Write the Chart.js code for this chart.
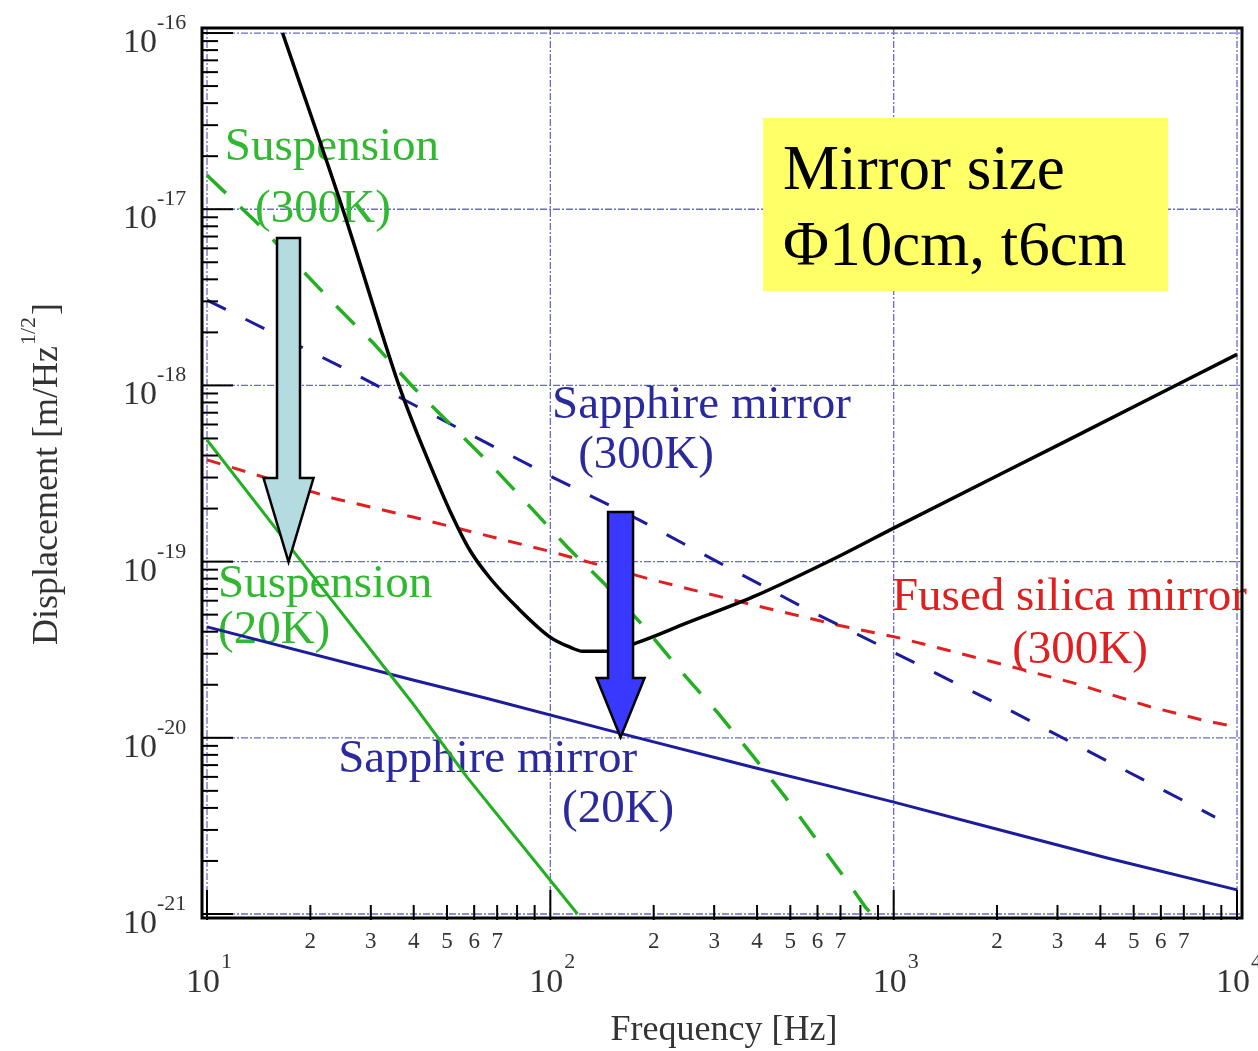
<!DOCTYPE html>
<html>
<head>
<meta charset="utf-8">
<script src="https://cdn.jsdelivr.net/npm/chart.js@4.4.0/dist/chart.umd.min.js"></script>
<style>
  html, body { margin: 0; padding: 0; background: #fff; }
  #wrap { width: 1258px; height: 1051px; }
</style>
</head>
<body>
<div id="wrap"><canvas id="noiseChart"></canvas></div>
<script>
// values (Hz, m/Hz^1/2)
const totalFreq = [16.6, 24.9, 35.8, 39.8, 44.6, 51.0, 58.3, 66.7, 79.9, 99.8, 114, 124, 146, 179, 250, 389, 698, 1000, 3177, 10000];
const totalNoise = [1.0e-16, 9.9e-18, 1.07e-18, 6.12e-19, 3.55e-19, 1.94e-19, 1.16e-19, 8.07e-20, 5.52e-20, 3.73e-20, 3.27e-20, 3.1e-20, 3.1e-20, 3.47e-20, 4.49e-20, 6.3e-20, 1.08e-19, 1.55e-19, 4.83e-19, 1.5e-18];

const susp300Freq = [10, 14.0, 23.3, 30.5, 39.8, 52.1, 68.1, 89.1, 112, 143, 189, 240, 308, 389, 483, 594, 731, 831, 865];
const susp300Noise = [1.56e-17, 8.36e-18, 2.94e-18, 1.74e-18, 9.8e-19, 5.8e-19, 3.44e-19, 1.96e-19, 1.21e-19, 7.57e-20, 4.2e-20, 2.39e-20, 1.38e-20, 7.89e-21, 4.62e-21, 2.67e-21, 1.54e-21, 1.08e-21, 1.0e-21];

const susp20Freq = [10, 18.7, 39.8, 57.1, 99.8, 120];
const susp20Noise = [4.9e-19, 1.02e-19, 1.56e-20, 6.0e-21, 1.56e-21, 1.0e-21];

const sapph300Freq = [10, 24.9, 57.1, 102, 182, 312, 545, 2042, 3334, 8630];
const sapph300Noise = [3.05e-18, 1.26e-18, 5.4e-19, 3.0e-19, 1.72e-19, 9.8e-20, 5.5e-20, 1.53e-20, 9.3e-21, 3.55e-21];

const silicaFreq = [10, 23.3, 39.8, 102, 199, 389, 684, 1045, 2000, 3334, 5585, 7960, 10000];
const silicaNoise = [3.78e-19, 2.29e-19, 1.79e-19, 1.13e-19, 7.87e-20, 5.68e-20, 4.37e-20, 3.68e-20, 2.66e-20, 2.05e-20, 1.50e-20, 1.26e-20, 1.15e-20];

const sapph20Freq = [10, 39.8, 65.5, 160, 389, 684, 995, 2042, 4188, 10000];
const sapph20Noise = [4.26e-20, 2.13e-20, 1.67e-20, 1.06e-20, 6.8e-21, 5.2e-21, 4.33e-21, 3.0e-21, 2.08e-21, 1.37e-21];

const freqExps = [1, 2, 3, 4];
const dispExps = [-16, -17, -18, -19, -20, -21];
const minorLabels = ["2", "3", "4", "5", "6", "7"];

const GREEN = "#22b022";
const GREEN_TXT = "#30b830";
const BLUE = "#1c1c9c";
const BLUE_TXT = "#2a2a9e";
const RED = "#e02020";
const SERIF = '"Liberation Serif", "DejaVu Serif", serif';

// annotation positions in log10 units of the axes
const notes = [
  { text: "Suspension", lf: 1.052, ly: -16.721, color: GREEN_TXT },
  { text: "(300K)", lf: 1.140, ly: -17.073, color: GREEN_TXT },
  { text: "Sapphire mirror", lf: 2.005, ly: -18.185, color: BLUE_TXT },
  { text: "(300K)", lf: 2.081, ly: -18.469, color: BLUE_TXT },
  { text: "Suspension", lf: 1.032, ly: -19.201, color: GREEN_TXT },
  { text: "(20K)", lf: 1.032, ly: -19.462, color: GREEN_TXT },
  { text: "Fused silica mirror", lf: 2.995, ly: -19.275, color: RED },
  { text: "(300K)", lf: 3.345, ly: -19.575, color: RED },
  { text: "Sapphire mirror", lf: 1.382, ly: -20.194, color: BLUE_TXT },
  { text: "(20K)", lf: 2.034, ly: -20.478, color: BLUE_TXT },
];

const arrows = [
  { lf: 1.2374, top: -17.163, base: -18.526, tip: -19.002, shaft: 23, head: 50, fill: "#b4dbe0" },
  { lf: 2.2045, top: -18.718, base: -19.661, tip: -19.996, shaft: 25, head: 48, fill: "#3838ff" },
];

const infoBox = { left: 2.6196, right: 3.7993, top: -16.482, bottom: -17.464, textLf: 2.678, lines: [["Mirror size", -16.885], ["\u03A610cm, t6cm", -17.317]] };

function series(freq, noise) {
  return freq.map((f, i) => ({ x: f, y: noise[i] }));
}

const decorPlugin = {
  id: "decor",
  beforeDatasetsDraw(chart) {
    const { ctx, chartArea: a, scales: { x, y } } = chart;
    const X = (l) => x.getPixelForValue(Math.pow(10, l));
    const Y = (l) => y.getPixelForValue(Math.pow(10, l));
    ctx.save();
    // decade grid
    ctx.strokeStyle = "#6a6ad0";
    ctx.lineWidth = 1.3;
    ctx.setLineDash([7, 2, 2, 2]);
    freqExps.forEach((e) => {
      const p = X(e);
      ctx.beginPath(); ctx.moveTo(p, a.top); ctx.lineTo(p, a.bottom); ctx.stroke();
    });
    dispExps.forEach((e) => {
      const p = Y(e);
      ctx.beginPath(); ctx.moveTo(a.left, p); ctx.lineTo(a.right, p); ctx.stroke();
    });
    ctx.setLineDash([]);
    // yellow info box
    const bx = X(infoBox.left), by = Y(infoBox.top);
    ctx.fillStyle = "#ffff66";
    ctx.fillRect(bx, by, X(infoBox.right) - bx, Y(infoBox.bottom) - by);
    ctx.fillStyle = "#000";
    ctx.font = "63px " + SERIF;
    ctx.textBaseline = "alphabetic";
    ctx.textAlign = "left";
    infoBox.lines.forEach(([t, l]) => ctx.fillText(t, X(infoBox.textLf), Y(l)));
    // curve labels
    ctx.font = "47px " + SERIF;
    notes.forEach((n) => {
      ctx.fillStyle = n.color;
      ctx.fillText(n.text, X(n.lf), Y(n.ly));
    });
    ctx.restore();
  },
  afterDatasetsDraw(chart) {
    const { ctx, chartArea: a, scales: { x, y } } = chart;
    const X = (l) => x.getPixelForValue(Math.pow(10, l));
    const Y = (l) => y.getPixelForValue(Math.pow(10, l));
    ctx.save();
    // arrows
    arrows.forEach((ar) => {
      const cx = X(ar.lf), t = Y(ar.top), b = Y(ar.base), tip = Y(ar.tip);
      const s = ar.shaft / 2, h = ar.head / 2;
      ctx.beginPath();
      ctx.moveTo(cx - s, t); ctx.lineTo(cx + s, t); ctx.lineTo(cx + s, b);
      ctx.lineTo(cx + h, b); ctx.lineTo(cx, tip); ctx.lineTo(cx - h, b);
      ctx.lineTo(cx - s, b); ctx.closePath();
      ctx.fillStyle = ar.fill; ctx.fill();
      ctx.strokeStyle = "#000"; ctx.lineWidth = 2.5; ctx.lineJoin = "miter"; ctx.stroke();
    });
    // frame
    ctx.strokeStyle = "#000";
    ctx.lineWidth = 3;
    ctx.strokeRect(a.left, a.top, a.right - a.left, a.bottom - a.top);
    // ticks
    ctx.lineWidth = 2;
    dispExps.forEach((e) => {
      for (let m = 1; m <= 9; m++) {
        const v = m * Math.pow(10, e);
        if (v < y.min || v > y.max) continue;
        const p = y.getPixelForValue(v);
        ctx.beginPath(); ctx.moveTo(a.left, p); ctx.lineTo(a.left + (m === 1 ? 31 : 16), p); ctx.stroke();
      }
    });
    freqExps.forEach((e) => {
      for (let m = 1; m <= 9; m++) {
        const f = m * Math.pow(10, e);
        if (f < x.min || f > x.max) continue;
        const p = x.getPixelForValue(f);
        ctx.beginPath(); ctx.moveTo(p, a.bottom + 2); ctx.lineTo(p, a.bottom - (m === 1 ? 28 : 13)); ctx.stroke();
      }
    });
    // tick labels
    ctx.fillStyle = "#333";
    ctx.textBaseline = "alphabetic";
    dispExps.forEach((e) => {
      const p = Y(e);
      ctx.font = "34px " + SERIF; ctx.textAlign = "right";
      ctx.fillText("10", 157, p + 19);
      ctx.font = "22px " + SERIF; ctx.textAlign = "left";
      ctx.fillText(String(e), 157, p - 4);
    });
    freqExps.forEach((e) => {
      const p = X(e);
      ctx.font = "34px " + SERIF; ctx.textAlign = "right";
      ctx.fillText("10", p + 13, a.bottom + 74);
      ctx.font = "22px " + SERIF; ctx.textAlign = "left";
      ctx.fillText(String(e), p + 14, a.bottom + 50);
    });
    ctx.font = "23px " + SERIF; ctx.textAlign = "center";
    freqExps.slice(0, 3).forEach((e) => {
      minorLabels.forEach((t) => {
        ctx.fillText(t, x.getPixelForValue(Number(t) * Math.pow(10, e)), a.bottom + 30);
      });
    });
    // axis titles
    ctx.font = "36px " + SERIF; ctx.textAlign = "center";
    ctx.fillText("Frequency [Hz]", (a.left + a.right) / 2 + 2, a.bottom + 122);
    ctx.translate(57, 645);
    ctx.rotate(-Math.PI / 2);
    ctx.textAlign = "left";
    const main = "Displacement [m/Hz";
    ctx.font = "36px " + SERIF;
    ctx.fillText(main, 0, 0);
    let w = ctx.measureText(main).width;
    ctx.font = "22px " + SERIF;
    ctx.fillText("1/2", w + 1, -22);
    w += ctx.measureText("1/2").width + 3;
    ctx.font = "36px " + SERIF;
    ctx.fillText("]", w, 0);
    ctx.restore();
  },
};

const ctx = document.getElementById("noiseChart");

new Chart(ctx, {
  type: "line",
  data: {
    datasets: [
      { label: "Total", data: series(totalFreq, totalNoise), borderColor: "#000", borderWidth: 3.5, cubicInterpolationMode: "monotone" },
      { label: "Suspension (300K)", data: series(susp300Freq, susp300Noise), borderColor: GREEN, borderWidth: 3.5, borderDash: [26, 20] },
      { label: "Suspension (20K)", data: series(susp20Freq, susp20Noise), borderColor: GREEN, borderWidth: 3 },
      { label: "Sapphire mirror (300K)", data: series(sapph300Freq, sapph300Noise), borderColor: BLUE, borderWidth: 3, borderDash: [21, 22] },
      { label: "Fused silica mirror (300K)", data: series(silicaFreq, silicaNoise), borderColor: RED, borderWidth: 3, borderDash: [14, 12] },
      { label: "Sapphire mirror (20K)", data: series(sapph20Freq, sapph20Noise), borderColor: BLUE, borderWidth: 3 },
    ],
  },
  options: {
    responsive: true,
    maintainAspectRatio: false,
    animation: false,
    layout: { padding: { top: 28, right: 16, left: 0, bottom: 0 } },
    plugins: {
      legend: { display: false },
      tooltip: { enabled: false },
    },
    elements: {
      point: { radius: 0 },
      line: { tension: 0 },
    },
    scales: {
      x: {
        type: "logarithmic",
        min: 9.67,
        max: 10340,
        ticks: { display: false },
        grid: { display: false },
        border: { display: false },
        afterFit: (s) => { s.height = 133; },
      },
      y: {
        type: "logarithmic",
        min: 9.49e-22,
        max: 1.068e-16,
        ticks: { display: false },
        grid: { display: false },
        border: { display: false },
        afterFit: (s) => { s.width = 202; },
      },
    },
  },
  plugins: [decorPlugin],
});
</script>
</body>
</html>
